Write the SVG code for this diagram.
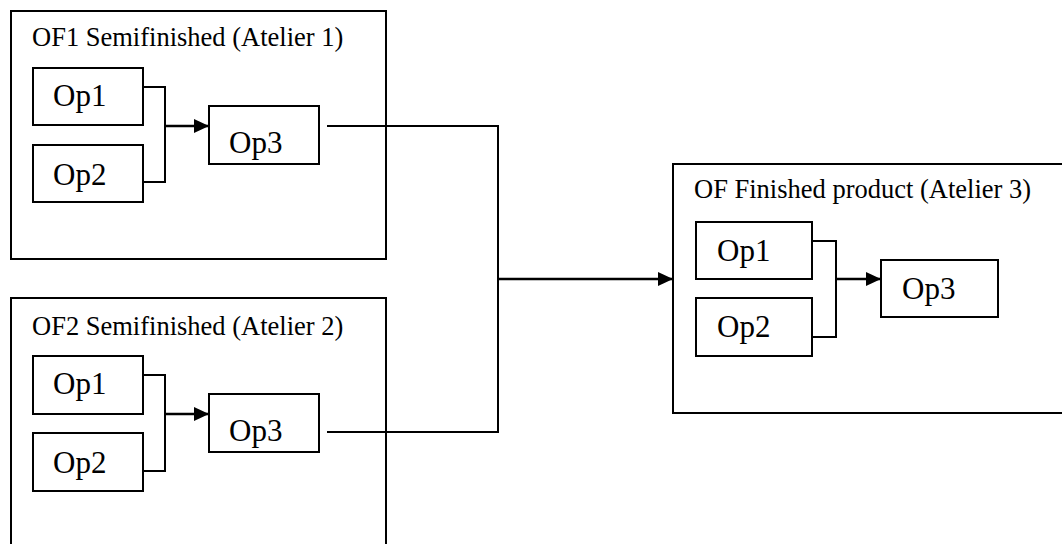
<svg xmlns="http://www.w3.org/2000/svg" width="1062" height="544" viewBox="0 0 1062 544">
  <style>
    .frame { fill: #fff; stroke: #000; stroke-width: 2; }
    .op { fill: #fff; stroke: #000; stroke-width: 2; }
    .title { font-family: "Liberation Serif", "Times New Roman", serif; font-size: 26.5px; fill: #000; }
    .opt { font-family: "Liberation Serif", "Times New Roman", serif; font-size: 31px; fill: #000; }
    .conn { fill: none; stroke: #000; stroke-width: 2; }
    .flow { fill: none; stroke: #000; stroke-width: 2.5; }
  </style>
  <defs>
    <marker id="arrow" markerUnits="userSpaceOnUse" markerWidth="16" markerHeight="16" refX="15" refY="7" orient="auto">
      <path d="M0,0 L15,7 L0,14 z" fill="#000"/>
    </marker>
  </defs>
  <rect width="1062" height="544" fill="#fff"/>

  <g id="of1">
    <rect class="frame" x="11" y="11" width="375" height="248"/>
    <text class="title" x="32" y="46">OF1 Semifinished (Atelier 1)</text>
    <g id="of1-op1"><rect class="op" x="33" y="68" width="110" height="57"/><text class="opt" x="53" y="106">Op1</text></g>
    <g id="of1-op2"><rect class="op" x="33" y="145" width="110" height="57"/><text class="opt" x="53" y="185">Op2</text></g>
    <g id="of1-op3"><rect class="op" x="209" y="106" width="110" height="58"/><text class="opt" x="229" y="153">Op3</text></g>
  </g>

  <g id="of2">
    <rect class="frame" x="11" y="298" width="375" height="260"/>
    <text class="title" x="32" y="335">OF2 Semifinished (Atelier 2)</text>
    <g id="of2-op1"><rect class="op" x="33" y="356" width="110" height="58"/><text class="opt" x="53" y="394">Op1</text></g>
    <g id="of2-op2"><rect class="op" x="33" y="433" width="110" height="58"/><text class="opt" x="53" y="473">Op2</text></g>
    <g id="of2-op3"><rect class="op" x="209" y="394" width="110" height="58"/><text class="opt" x="229" y="441">Op3</text></g>
  </g>

  <g id="of3">
    <rect class="frame" x="673" y="164" width="400" height="249"/>
    <text class="title" x="694" y="198">OF Finished product (Atelier 3)</text>
    <g id="of3-op1"><rect class="op" x="696" y="222" width="116" height="57"/><text class="opt" x="717" y="261">Op1</text></g>
    <g id="of3-op2"><rect class="op" x="696" y="298" width="116" height="58"/><text class="opt" x="717" y="337">Op2</text></g>
    <g id="of3-op3"><rect class="op" x="881" y="260" width="117" height="57"/><text class="opt" x="902" y="299">Op3</text></g>
  </g>

  <g id="connectors">
    <path class="conn" d="M143,87 H165 V182 H143"/>
    <path class="flow" d="M165,126 H209" marker-end="url(#arrow)"/>
    <path class="conn" d="M143,375 H165 V471 H143"/>
    <path class="flow" d="M165,414 H209" marker-end="url(#arrow)"/>
    <path class="conn" d="M812,241 H836 V337 H812"/>
    <path class="flow" d="M836,279 H881" marker-end="url(#arrow)"/>
    <path class="conn" d="M327,126 H498 V432 H327"/>
    <path class="flow" d="M498,279 H673" marker-end="url(#arrow)"/>
  </g>
</svg>
